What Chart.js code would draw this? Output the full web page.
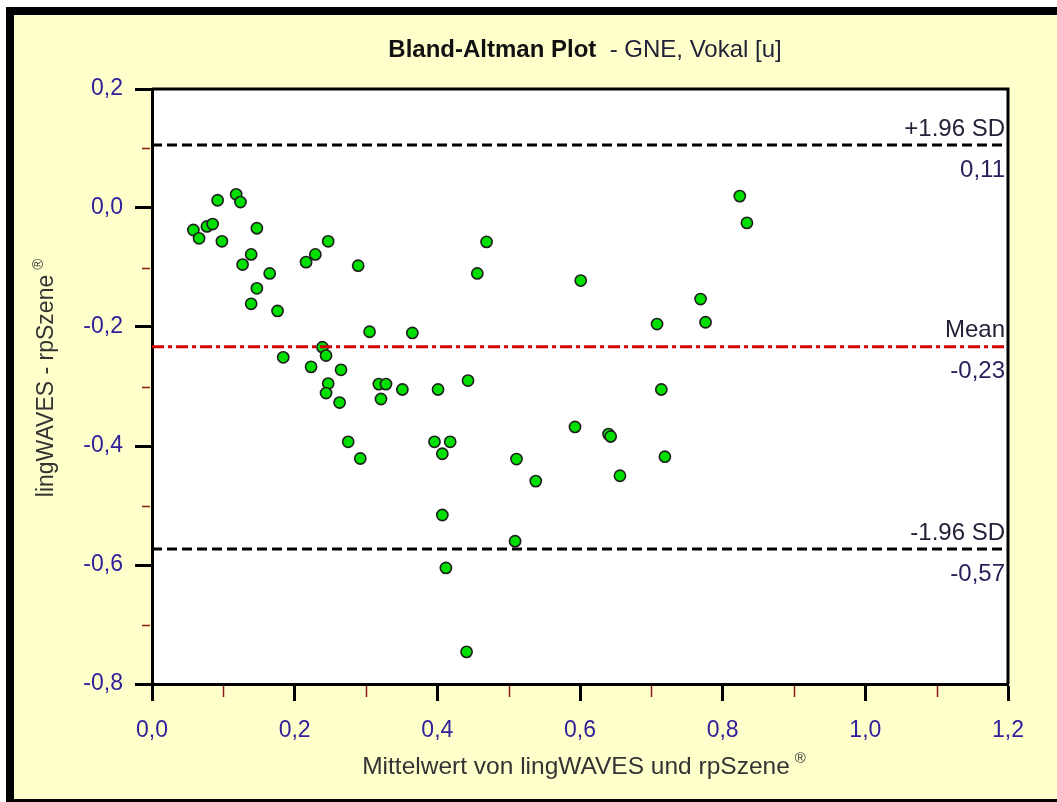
<!DOCTYPE html>
<html>
<head>
<meta charset="utf-8">
<script src="https://cdn.jsdelivr.net/npm/chart.js@4.4.0/dist/chart.umd.min.js"></script>
<style>
    html, body { margin: 0; padding: 0; background: #fff; overflow: hidden; }
    .frame {
        position: absolute;
        left: 6px;
        top: 7px;
        width: 1100px;
        height: 784px;
        border: 8px solid #000;
        background: #ffffcc;
    }
    #wrap { position: absolute; left: 0; top: 0; width: 1057px; height: 802px; }
</style>
</head>
<body>
<div class="frame"></div>
<div id="wrap"><canvas id="baChart" width="1057" height="802"></canvas></div>
<script>
// Mean of both methods (x) and their difference (y)
const meanValues = [
    0.058, 0.066, 0.077, 0.085, 0.092, 0.098, 0.118, 0.124, 0.127, 0.147,
    0.139, 0.147, 0.139, 0.165, 0.176, 0.184, 0.216, 0.229, 0.247, 0.223,
    0.239, 0.244, 0.247, 0.244, 0.265, 0.263, 0.275, 0.292, 0.289, 0.305,
    0.318, 0.328, 0.321, 0.351, 0.365, 0.396, 0.401, 0.407, 0.418, 0.407,
    0.412, 0.443, 0.441, 0.456, 0.469, 0.509, 0.511, 0.538, 0.593, 0.601,
    0.640, 0.643, 0.656, 0.708, 0.714, 0.719, 0.769, 0.776, 0.824, 0.834
];
const diffValues = [
    -0.037, -0.051, -0.031, -0.027, 0.013, -0.056, 0.023, 0.010, -0.095, -0.034,
    -0.078, -0.135, -0.161, -0.110, -0.173, -0.251, -0.091, -0.078, -0.056, -0.267,
    -0.234, -0.248, -0.295, -0.311, -0.272, -0.327, -0.393, -0.421, -0.097, -0.208,
    -0.296, -0.296, -0.321, -0.305, -0.210, -0.393, -0.305, -0.413, -0.393, -0.516,
    -0.605, -0.290, -0.746, -0.110, -0.057, -0.560, -0.422, -0.459, -0.368, -0.122,
    -0.380, -0.384, -0.450, -0.195, -0.305, -0.418, -0.153, -0.192, 0.020, -0.025
];

// Limits of agreement: +1.96 SD, mean, -1.96 SD
const limitNames = ["+1.96 SD", "Mean", "-1.96 SD"];
const limitValues = [0.106, -0.233, -0.573];

const xRange = [0, 1.2];
const yRange = [-0.8, 0.2];

const FONT = "'Liberation Sans', Arial, sans-serif";
const TICK_COLOR = "#30209a";
const TEXT_COLOR = "#222238";

const fmt = (v, d) => v.toFixed(d).replace(".", ",");

const limitDatasets = limitValues.map((v, i) => ({
    type: "line",
    data: [{ x: xRange[0], y: v }, { x: xRange[1], y: v }],
    borderColor: i === 1 ? "#d40000" : "#000",
    borderWidth: 3,
    borderDash: i === 1 ? [12, 4, 4, 4] : [10, 5],
    pointRadius: 0,
    fill: false,
    order: 0,
}));

// Frame, minor ticks, titles and limit labels
const decorPlugin = {
    id: "decor",
    beforeDraw(chart) {
        const { ctx, chartArea: a } = chart;
        ctx.save();
        ctx.fillStyle = "#fff";
        ctx.fillRect(a.left, a.top, a.right - a.left, a.bottom - a.top);
        ctx.restore();
    },
    afterDraw(chart) {
        const { ctx, chartArea: a, scales } = chart;
        const xs = scales.x, ys = scales.y;
        ctx.save();

        // top / right border of plot area
        ctx.strokeStyle = "#000";
        ctx.lineWidth = 3;
        ctx.beginPath();
        ctx.moveTo(a.left, a.top);
        ctx.lineTo(a.right, a.top);
        ctx.lineTo(a.right, a.bottom);
        ctx.stroke();

        // minor ticks
        ctx.strokeStyle = "#8b1a1a";
        ctx.lineWidth = 1.5;
        for (let v = xRange[0] + 0.1; v < xRange[1]; v += 0.2) {
            const px = Math.round(xs.getPixelForValue(v)) + 0.5;
            ctx.beginPath();
            ctx.moveTo(px, a.bottom + 2);
            ctx.lineTo(px, a.bottom + 13);
            ctx.stroke();
        }
        for (let v = yRange[0] + 0.1; v < yRange[1]; v += 0.2) {
            const py = Math.round(ys.getPixelForValue(v)) + 0.5;
            ctx.beginPath();
            ctx.moveTo(a.left - 2, py);
            ctx.lineTo(a.left - 10, py);
            ctx.stroke();
        }

        // title
        ctx.textBaseline = "alphabetic";
        ctx.textAlign = "left";
        const t1 = "Bland-Altman Plot";
        const t2 = "  - GNE, Vokal [u]";
        ctx.font = "bold 24px " + FONT;
        const w1 = ctx.measureText(t1).width;
        ctx.font = "24px " + FONT;
        const w2 = ctx.measureText(t2).width;
        let tx = 585 - (w1 + w2) / 2;
        ctx.font = "bold 24px " + FONT;
        ctx.fillStyle = "#111";
        ctx.fillText(t1, tx, 57);
        ctx.font = "24px " + FONT;
        ctx.fillStyle = TEXT_COLOR;
        ctx.fillText(t2, tx + w1, 57);

        // x axis title
        const xt = "Mittelwert von lingWAVES und rpSzene";
        ctx.font = "24.5px " + FONT;
        const xw = ctx.measureText(xt).width;
        const xx = (a.left + a.right) / 2 - xw / 2 - 4;
        ctx.fillStyle = "#333";
        ctx.fillText(xt, xx, 774);
        ctx.font = "15px " + FONT;
        ctx.fillText("®", xx + xw + 5, 763);

        // y axis title
        const yt = "lingWAVES - rpSzene";
        ctx.save();
        ctx.translate(53, 386);
        ctx.rotate(-Math.PI / 2);
        ctx.font = "23px " + FONT;
        const yw = ctx.measureText(yt).width;
        ctx.fillText(yt, -yw / 2, 0);
        ctx.font = "15px " + FONT;
        ctx.fillText("®", yw / 2 + 5, -10);
        ctx.restore();

        // limit labels
        ctx.font = "24px " + FONT;
        ctx.textAlign = "right";
        ctx.textBaseline = "middle";
        limitValues.forEach((v, i) => {
            const py = ys.getPixelForValue(v);
            ctx.fillStyle = TEXT_COLOR;
            ctx.fillText(limitNames[i], a.right - 3, py - 16);
            ctx.fillStyle = "#2a1f5a";
            ctx.fillText(fmt(v, 2), a.right - 3, py + 25);
        });

        ctx.restore();
    },
};

const ctx = document.getElementById("baChart").getContext("2d");

new Chart(ctx, {
    type: "scatter",
    data: {
        datasets: [
            ...limitDatasets,
            {
                type: "scatter",
                data: meanValues.map((x, i) => ({ x: x, y: diffValues[i] })),
                backgroundColor: "#00e000",
                borderColor: "#1e1e1e",
                borderWidth: 1.6,
                pointRadius: 5.6,
                order: 1,
            },
        ],
    },
    options: {
        responsive: false,
        animation: false,
        events: [],
        layout: {
            padding: { top: 89, right: 49, left: 0, bottom: 0 },
        },
        plugins: {
            legend: { display: false },
            tooltip: { enabled: false },
            title: { display: false },
        },
        scales: {
            x: {
                type: "linear",
                min: xRange[0],
                max: xRange[1],
                afterFit: (s) => { s.height = 802 - 684; },
                ticks: {
                    stepSize: 0.2,
                    padding: 16,
                    color: TICK_COLOR,
                    font: { family: FONT, size: 23 },
                    callback: (v) => fmt(v, 1),
                },
                grid: {
                    drawOnChartArea: false,
                    tickLength: 17,
                    tickWidth: 3,
                    tickColor: "#000",
                },
                border: { color: "#000", width: 3 },
            },
            y: {
                type: "linear",
                min: yRange[0],
                max: yRange[1],
                afterFit: (s) => { s.width = 152; },
                ticks: {
                    stepSize: 0.2,
                    padding: 12,
                    color: TICK_COLOR,
                    font: { family: FONT, size: 23 },
                    callback: (v) => fmt(v, 1),
                },
                grid: {
                    drawOnChartArea: false,
                    tickLength: 17,
                    tickWidth: 3,
                    tickColor: "#000",
                },
                border: { color: "#000", width: 3 },
            },
        },
    },
    plugins: [decorPlugin],
});
</script>
</body>
</html>
